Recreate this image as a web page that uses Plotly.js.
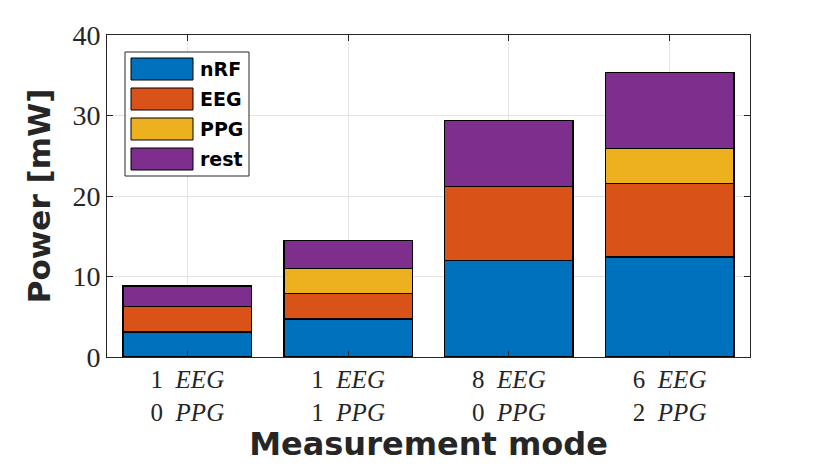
<!DOCTYPE html>
<html>
<head>
<meta charset="utf-8">
<script src="https://cdn.plot.ly/plotly-3.0.1.min.js"></script>
<style>
  html, body { margin: 0; padding: 0; background: #fff; }
  #chart { width: 830px; height: 466px; }
</style>
</head>
<body>
<div id="chart"></div>
<script>
// measurement modes (x categories)
const modes = [
  "1&nbsp;&nbsp;<i>EEG</i><br>0&nbsp;&nbsp;<i>PPG</i>",
  "1&nbsp;&nbsp;<i>EEG</i><br>1&nbsp;&nbsp;<i>PPG</i>",
  "8&nbsp;&nbsp;<i>EEG</i><br>0&nbsp;&nbsp;<i>PPG</i>",
  "6&nbsp;&nbsp;<i>EEG</i><br>2&nbsp;&nbsp;<i>PPG</i>"
];

// power per component [mW]
const nRF = [3.1, 4.7, 12.0, 12.4];
const EEG = [3.2, 3.2, 9.2, 9.15];
const PPG = [0, 3.1, 0, 4.35];
const rest = [2.55, 3.5, 8.15, 9.45];

const names = ["nRF", "EEG", "PPG", "rest"];
const colors = ["#0072BD", "#D95319", "#EDB120", "#7E2F8E"];
const series = [nRF, EEG, PPG, rest];

const yTicks = [0, 10, 20, 30, 40];

var data = series.map(function (vals, i) {
  return {
    type: "bar",
    x: modes,
    y: vals,
    name: names[i],
    marker: { color: colors[i], line: { color: "#000", width: 1.5 } },
    hoverinfo: "name+y"
  };
});

var W = 830, H = 466;
var margin = { l: 107, r: 80, t: 35, b: 109 };
var pw = W - margin.l - margin.r, ph = H - margin.t - margin.b;
// pixel -> paper (plot area) coords
function px(x) { return (x - margin.l) / pw; }
function py(y) { return (H - margin.b - y) / ph; }

// hand drawn legend, matlab style (big swatches)
var shapes = [];
var annotations = [];
shapes.push({
  type: "rect", xref: "paper", yref: "paper",
  x0: px(125), x1: px(249), y0: py(52), y1: py(176),
  line: { color: "#262626", width: 1 }, fillcolor: "#fff", layer: "above"
});
for (let i = 0; i < names.length; i++) {
  let rowTop = 58 + i * 30;
  shapes.push({
    type: "rect", xref: "paper", yref: "paper",
    x0: px(131), x1: px(193), y0: py(rowTop), y1: py(rowTop + 22),
    line: { color: "#000", width: 1 }, fillcolor: colors[i], layer: "above"
  });
  annotations.push({
    xref: "paper", yref: "paper", x: px(198), y: py(rowTop + 11),
    xanchor: "left", yanchor: "middle", showarrow: false,
    text: "<b>" + names[i] + "</b>",
    font: { family: "DejaVu Sans", size: 19, color: "#000" }
  });
}

var layout = {
  width: W,
  height: H,
  margin: margin,
  barmode: "stack",
  bargap: 0.2,
  showlegend: false,
  paper_bgcolor: "#fff",
  plot_bgcolor: "#fff",
  font: { family: "Liberation Serif", color: "#262626" },
  xaxis: {
    type: "category",
    range: [-0.5, 3.5],
    showline: true, linecolor: "#262626", linewidth: 1, mirror: "ticks",
    ticks: "inside", ticklen: 6, tickcolor: "#262626",
    showgrid: true, gridcolor: "#e3e3e3",
    tickfont: { family: "Liberation Serif", size: 25, color: "#262626" },
    title: {
      text: "<b>Measurement mode</b>",
      font: { family: "DejaVu Sans", size: 32, color: "#262626" },
      standoff: 0
    }
  },
  yaxis: {
    range: [0, 40],
    tickvals: yTicks,
    showline: true, linecolor: "#262626", linewidth: 1, mirror: "ticks",
    ticks: "inside", ticklen: 6, tickcolor: "#262626",
    showgrid: true, gridcolor: "#e3e3e3", zeroline: false,
    tickfont: { family: "Liberation Serif", size: 28, color: "#262626" },
    title: {
      text: "<b>Power [mW]</b>",
      font: { family: "DejaVu Sans", size: 31, color: "#262626" },
      standoff: 12
    }
  },
  shapes: shapes,
  annotations: annotations
};

Plotly.newPlot("chart", data, layout, { displayModeBar: false, staticPlot: true });
</script>
</body>
</html>
